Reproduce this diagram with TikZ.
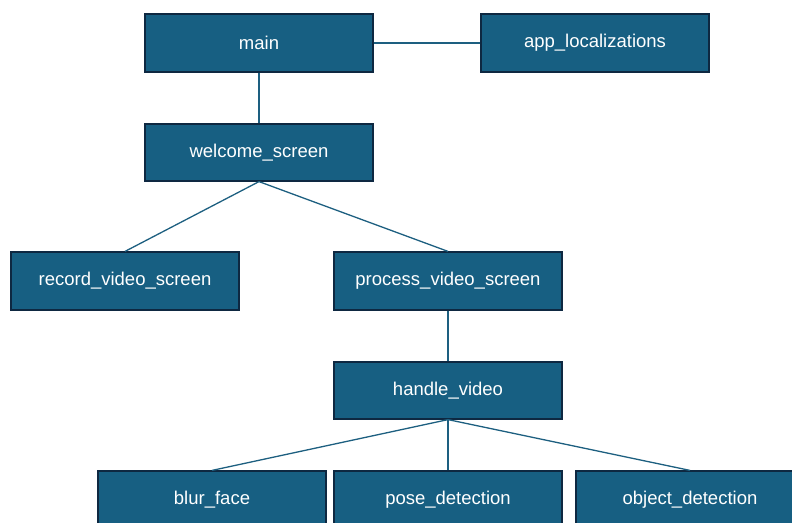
\documentclass[tikz,border=0pt]{standalone}
\usepackage{fontspec}
\setmainfont{Liberation Sans}
\definecolor{boxfill}{HTML}{175F82}
\definecolor{boxdraw}{HTML}{0E2841}
\definecolor{linecol}{HTML}{1D5F80}
\newcommand\boxlbl[1]{\raisebox{-1.5pt}{#1}}
\begin{document}
\begin{tikzpicture}[x=1pt,y=-1pt,
  box/.style={draw=boxdraw,line width=1.2pt,fill=boxfill,text=white,minimum width=228pt,minimum height=58pt,inner sep=0pt,font=\fontsize{18.5}{20}\selectfont},
  conn/.style={draw=linecol,line width=1.3pt}]
\useasboundingbox (0,0) rectangle (792,522);
\clip (0,0) rectangle (792,522);
\node[box] (main) at (259,43) {\boxlbl{main}};
\node[box] (app) at (595,43) {\boxlbl{app\_localizations}};
\node[box,minimum height=57pt] (welcome) at (259,152.5) {\boxlbl{welcome\_screen}};
\node[box] (record) at (125,281) {\boxlbl{record\_video\_screen}};
\node[box] (process) at (448,281) {\boxlbl{process\_video\_screen}};
\node[box,minimum height=57pt] (handle) at (448,390.5) {\boxlbl{handle\_video}};
\node[box] (blur) at (212,500) {\boxlbl{blur\_face}};
\node[box] (pose) at (448,500) {\boxlbl{pose\_detection}};
\node[box] (object) at (690,500) {\boxlbl{object\_detection}};
\draw[conn] (main.east) -- (app.west);
\draw[conn] (main.south) -- (welcome.north);
\draw[conn] (welcome.south) -- (record.north);
\draw[conn] (welcome.south) -- (process.north);
\draw[conn] (process.south) -- (handle.north);
\draw[conn] (handle.south) -- (blur.north);
\draw[conn] (handle.south) -- (pose.north);
\draw[conn] (handle.south) -- (object.north);
\end{tikzpicture}
\end{document}
